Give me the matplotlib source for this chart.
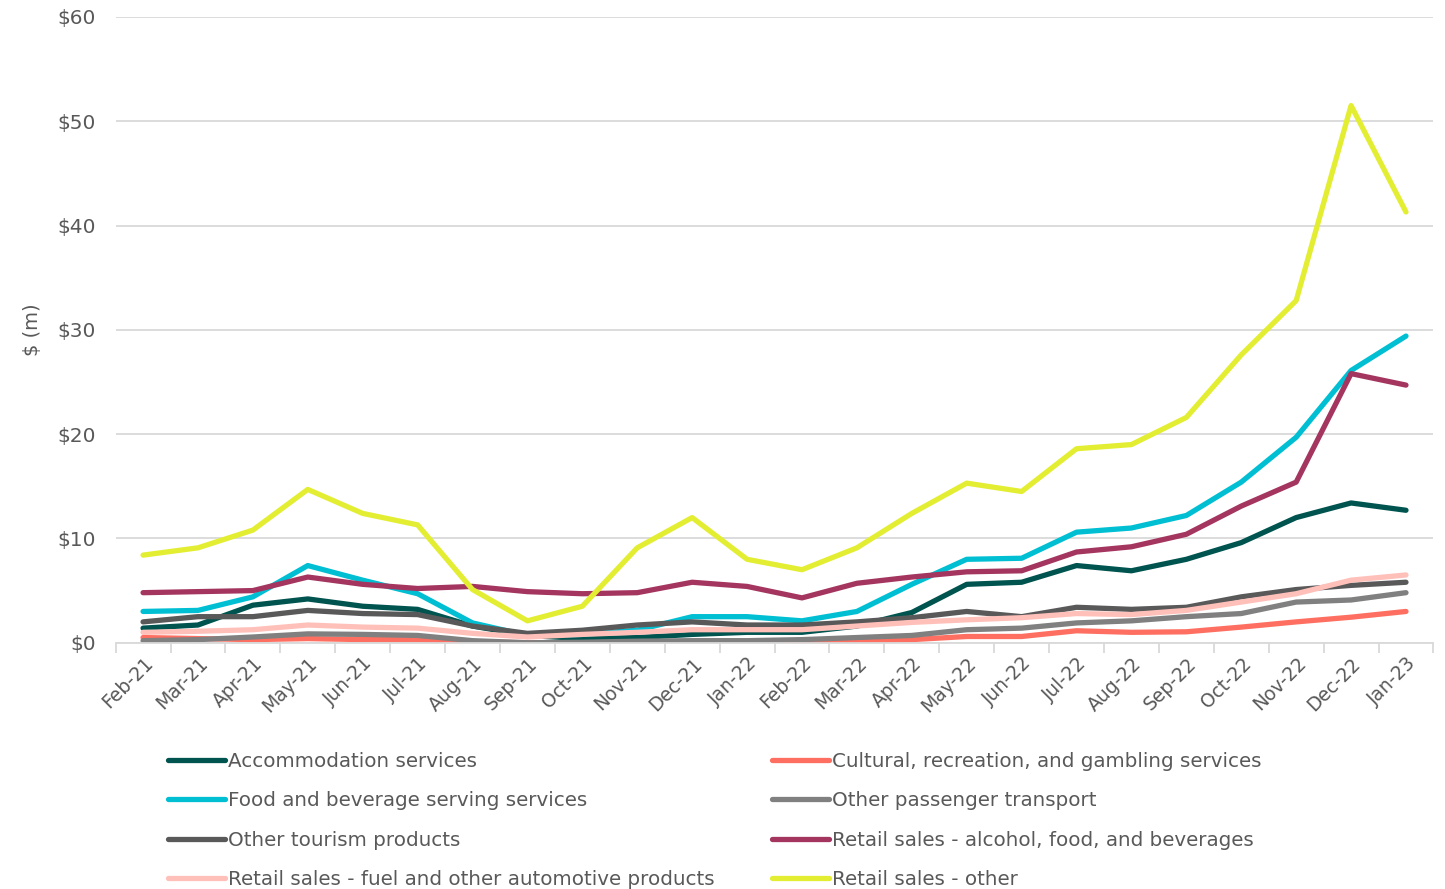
import numpy as np
import matplotlib.pyplot as plt

months = ["Feb-21", "Mar-21", "Apr-21", "May-21", "Jun-21", "Jul-21", "Aug-21", "Sep-21",
          "Oct-21", "Nov-21", "Dec-21", "Jan-22", "Feb-22", "Mar-22", "Apr-22", "May-22",
          "Jun-22", "Jul-22", "Aug-22", "Sep-22", "Oct-22", "Nov-22", "Dec-22", "Jan-23"]

accommodation = [1.4, 1.7, 3.6, 4.2, 3.5, 3.2, 1.6, 0.7, 0.4, 0.5, 0.8, 1.0, 1.0, 1.6, 2.9, 5.6,
                 5.8, 7.4, 6.9, 8.0, 9.6, 12.0, 13.4, 12.7]
cultural = [0.5, 0.4, 0.3, 0.4, 0.3, 0.3, 0.1, 0.0, 0.0, 0.05, 0.1, 0.1, 0.1, 0.2, 0.3, 0.6,
            0.6, 1.15, 1.0, 1.05, 1.5, 2.0, 2.45, 3.0]
food_bev = [3.0, 3.1, 4.4, 7.4, 6.0, 4.7, 1.9, 0.7, 0.8, 1.2, 2.5, 2.5, 2.1, 3.0, 5.6, 8.0,
            8.1, 10.6, 11.0, 12.2, 15.4, 19.7, 26.1, 29.4]
passenger = [0.2, 0.3, 0.55, 0.85, 0.8, 0.7, 0.2, 0.0, 0.05, 0.15, 0.2, 0.2, 0.3, 0.5, 0.7, 1.25,
             1.4, 1.9, 2.1, 2.5, 2.8, 3.9, 4.1, 4.8]
other_tourism = [2.0, 2.5, 2.5, 3.1, 2.8, 2.7, 1.6, 0.9, 1.2, 1.7, 2.0, 1.7, 1.7, 2.0, 2.4, 3.0,
                 2.5, 3.4, 3.2, 3.4, 4.4, 5.1, 5.5, 5.8]
retail_alcohol = [4.8, 4.9, 5.0, 6.3, 5.6, 5.2, 5.4, 4.9, 4.7, 4.8, 5.8, 5.4, 4.3, 5.7, 6.3, 6.8,
                  6.9, 8.7, 9.2, 10.4, 13.1, 15.4, 25.8, 24.7]
retail_fuel = [1.0, 1.1, 1.25, 1.7, 1.5, 1.4, 0.9, 0.55, 0.8, 1.0, 1.25, 1.25, 1.25, 1.6, 1.95, 2.2,
               2.4, 2.8, 2.7, 3.1, 3.9, 4.7, 6.0, 6.5]
retail_other = [8.4, 9.1, 10.8, 14.7, 12.4, 11.3, 5.1, 2.1, 3.5, 9.1, 12.0, 8.0, 7.0, 9.1, 12.4, 15.3,
                14.5, 18.6, 19.0, 21.6, 27.6, 32.8, 51.5, 41.3]

series = [
    ("Accommodation services", accommodation, "#005450"),
    ("Cultural, recreation, and gambling services", cultural, "#FF6F61"),
    ("Food and beverage serving services", food_bev, "#00BFD3"),
    ("Other passenger transport", passenger, "#808080"),
    ("Other tourism products", other_tourism, "#595959"),
    ("Retail sales - alcohol, food, and beverages", retail_alcohol, "#A4355F"),
    ("Retail sales - fuel and other automotive products", retail_fuel, "#FFC0BA"),
    ("Retail sales - other", retail_other, "#E3EE33"),
]

text_col = "#595959"
grid_col = "#D9D9D9"

fig = plt.figure(figsize=(14.45, 8.89), dpi=100)
ax = fig.add_axes([0.080, 0.277, 0.912, 0.704])

x = np.arange(len(months))
handles = {}
for name, vals, col in series:
    ln, = ax.plot(x, vals, color=col, lw=3.8, solid_capstyle="round", solid_joinstyle="round")
    handles[name] = ln

ax.set_xlim(-0.5, len(months) - 0.5)
ax.set_ylim(0, 60)
ax.set_yticks(range(0, 61, 10))
ax.set_yticklabels(["$%d" % v for v in range(0, 61, 10)])
ax.yaxis.grid(True, color=grid_col, lw=1.3)
ax.set_axisbelow(True)
for s in ["top", "right", "left"]:
    ax.spines[s].set_visible(False)
ax.spines["bottom"].set_color(grid_col)
ax.spines["bottom"].set_linewidth(1.3)

ax.set_xticks(x)
ax.set_xticklabels(months, rotation=45, ha="right", rotation_mode="anchor")
ax.set_xticks(np.arange(-0.5, len(months), 1), minor=True)
ax.tick_params(axis="x", which="major", length=0, pad=8, labelsize=13.5, labelcolor=text_col)
ax.tick_params(axis="x", which="minor", length=7, color=grid_col, width=1.3)
ax.tick_params(axis="y", length=0, pad=14, labelsize=14.5, labelcolor=text_col)
ax.set_ylabel("$ (m)", fontsize=14, color=text_col, labelpad=11)

order = ["Accommodation services", "Food and beverage serving services",
         "Other tourism products", "Retail sales - fuel and other automotive products",
         "Cultural, recreation, and gambling services", "Other passenger transport",
         "Retail sales - alcohol, food, and beverages", "Retail sales - other"]
leg = fig.legend([handles[n] for n in order], order, ncol=2, loc="upper left",
                 bbox_to_anchor=(0.111, 0.163), frameon=False,
                 prop={"family": "DejaVu Sans", "size": 14.3},
                 handlelength=2.85, handletextpad=0.15, labelspacing=1.02,
                 columnspacing=2.9, borderaxespad=0)
for t in leg.get_texts():
    t.set_color(text_col)

fig.savefig("out.png", dpi=100)
